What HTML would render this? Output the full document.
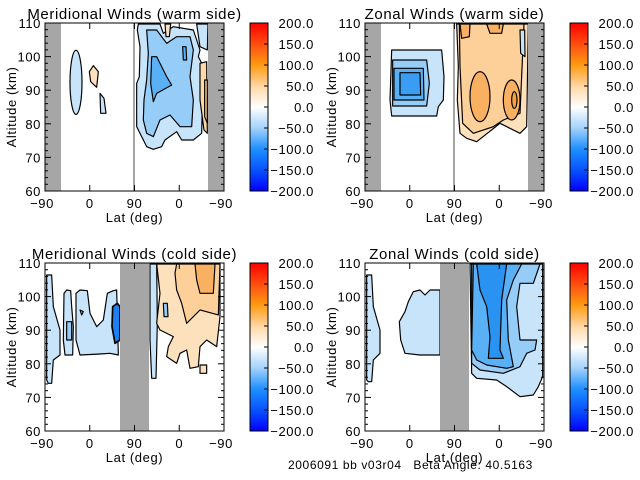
<!DOCTYPE html>
<html><head><meta charset="utf-8"><style>
html,body{margin:0;padding:0;background:#fff}
svg{display:block}
text{font-family:"Liberation Sans",sans-serif;fill:#000;letter-spacing:0.6px}
</style></head><body>
<svg id="s" width="640" height="480" xmlns="http://www.w3.org/2000/svg">
<defs>
<linearGradient id="cb" x1="0" y1="0" x2="0" y2="1">
<stop offset="0" stop-color="#ff0000"/>
<stop offset="0.12" stop-color="#ff4a10"/>
<stop offset="0.25" stop-color="#ff9a10"/>
<stop offset="0.38" stop-color="#ffd8a8"/>
<stop offset="0.5" stop-color="#ffffff"/>
<stop offset="0.62" stop-color="#a8d4fa"/>
<stop offset="0.75" stop-color="#1e90ff"/>
<stop offset="0.88" stop-color="#0850ff"/>
<stop offset="1" stop-color="#0000ff"/>
</linearGradient>
</defs>
<g stroke="#000" stroke-width="3.5" stroke-linejoin="round">
<!-- Panel 1 -->
<g transform="translate(0,0) scale(0.33333)">
<ellipse cx="228" cy="247" rx="18" ry="96" fill="#c8e4fa"/>
<path d="M268,215 L280,197 L295,215 L290,262 L272,245Z" fill="#fde0bc"/>
<path d="M300,280 L312,295 L318,340 L302,340Z" fill="#c8e4fa"/>
<path d="M415,72 L480,72 L490,100 L520,80 L580,90 L600,150 L595,170 L610,200 L605,400 L580,420 L545,420 L530,395 L495,420 L485,440 L460,448 L440,440 L425,410 L410,380 L410,250 L418,230 L420,140 L412,90Z" fill="#c8e4fa"/>
<path d="M440,90 L470,90 L500,130 L530,110 L570,110 L580,150 L570,230 L580,300 L575,380 L540,380 L510,345 L480,360 L460,410 L440,400 L430,360 L432,300 L440,240 L445,160Z" fill="#96cdf8"/>
<path d="M455,170 L470,170 L500,230 L515,255 L470,280 L460,305 L452,250Z" fill="#5ab0f5"/>
<path d="M548,140 L558,140 L560,180 L550,180Z" fill="#5ab0f5"/>
<path d="M600,190 L620,185 L622,400 L612,390 L600,300Z" fill="#fdd8a8"/>
<path d="M614,240 L622,240 L622,370 L614,350Z" fill="#fcc888"/>
<path d="M495,72 L512,72 L508,110 L498,110Z" fill="#fde0bc"/>
<path d="M590,72 L624,72 L622,150 L600,140Z" fill="#c8e4fa"/>
</g>
<!-- Panel 2 -->
<g transform="translate(320,0) scale(0.33333)">
<path d="M215,150 L365,150 L372,230 L370,300 L355,320 L350,348 L215,348 L210,300Z" fill="#c8e4fa"/>
<path d="M218,180 L320,180 L328,250 L320,318 L218,318Z" fill="#96cdf8"/>
<path d="M222,205 L310,205 L312,300 L222,300Z" fill="#5ab0f5"/>
<path d="M240,218 L300,218 L302,285 L240,285Z" fill="#3a9cf2"/>
<path d="M410,72 L625,72 L620,380 L600,400 L540,370 L470,425 L440,415 L420,400 L412,300 L415,200Z" fill="#fde0bc"/>
<path d="M418,72 L612,72 L600,340 L550,360 L520,380 L460,400 L428,370 L420,200Z" fill="#fcd098"/>
<ellipse cx="480" cy="290" rx="30" ry="75" fill="#f9b060"/>
<ellipse cx="575" cy="300" rx="25" ry="60" fill="#f9b060"/>
<path d="M420,72 L450,72 L448,110 L425,115Z" fill="#f9b060"/>
<path d="M500,72 L550,72 L545,100 L510,100Z" fill="#f9b060"/>
<ellipse cx="583" cy="300" rx="8" ry="25" fill="#f5a040"/>
<path d="M600,90 L614,90 L615,170 L602,160Z" fill="#c8e4fa"/>
</g>
<!-- Panel 3 -->
<g transform="translate(0,240) scale(0.33333)">
<path d="M140,105 L155,105 L160,200 L180,270 L180,345 L160,360 L155,430 L145,430 L140,420Z" fill="#c8e4fa"/>
<path d="M192,160 L200,150 L212,152 L215,200 L220,260 L218,345 L195,345 L190,300Z" fill="#c8e4fa"/>
<path d="M228,160 L240,150 L262,152 L270,220 L290,260 L310,240 L322,160 L340,152 L350,150 L355,345 L330,340 L300,342 L240,345 L228,300Z" fill="#c8e4fa"/>
<path d="M200,245 L215,245 L215,300 L200,300Z" fill="#96cdf8"/>
<path d="M240,210 L250,215 L245,225Z" fill="#96cdf8"/>
<path d="M338,200 L352,190 L360,200 L360,300 L345,310 L336,260Z" fill="#1e7ff0" stroke-width="5"/>
<path d="M450,72 L470,72 L472,250 L468,415 L455,415 L450,300Z" fill="#c8e4fa"/>
<path d="M490,72 L660,72 L660,230 L650,320 L620,300 L600,320 L595,380 L570,385 L560,330 L540,340 L530,370 L500,350 L505,320 L520,290 L480,270 L470,250 L480,160 L470,72Z" fill="#fde0bc"/>
<path d="M530,72 L660,72 L655,225 L600,210 L560,250 L545,190 L530,150 L525,100Z" fill="#fcd098"/>
<path d="M585,72 L645,72 L640,160 L600,160 L590,120Z" fill="#f9b060"/>
<path d="M600,375 L620,375 L620,400 L600,400Z" fill="#fde0bc"/>
<path d="M490,190 L502,190 L504,230 L492,230Z" fill="#96cdf8"/>
</g>
<!-- Panel 4 -->
<g transform="translate(320,240) scale(0.33333)">
<path d="M140,105 L155,105 L160,200 L180,270 L180,340 L160,360 L155,425 L145,425 L140,420Z" fill="#c8e4fa"/>
<path d="M238,245 L255,215 L265,185 L280,155 L300,150 L315,165 L330,150 L345,150 L360,150 L360,345 L300,345 L255,340 L242,300Z" fill="#c8e4fa"/>
<path d="M450,72 L668,72 L668,410 L655,440 L640,465 L600,470 L560,440 L530,420 L470,415 L455,400Z" fill="#c8e4fa"/>
<path d="M455,72 L660,72 L640,130 L600,130 L590,200 L600,300 L650,300 L645,330 L620,340 L600,380 L550,400 L480,390 L455,370Z" fill="#96cdf8"/>
<path d="M460,72 L605,72 L580,120 L560,180 L565,300 L580,380 L560,385 L500,375 L470,360 L455,330Z" fill="#5ab0f5"/>
<path d="M470,72 L560,72 L545,180 L540,330 L550,355 L505,355 L510,290 L500,200 L480,150Z" fill="#2a92f0"/>
</g>
</g>
<g id="ax"></g>
<text x="288" y="469" font-size="12" style="white-space:pre" xml:space="preserve">2006091 bb v03r04   Beta Angle: 40.5163</text>
</svg>
<script>
var ax=document.getElementById('ax'),h='';
var P=[[0,0,'Meridional Winds (warm side)',[[45,61],[208,224]],134],
[320,0,'Zonal Winds (warm side)',[[45,61],[208,224]],134],
[0,240,'Meridional Winds (cold side)',[[120,149]],null],
[320,240,'Zonal Winds (cold side)',[[120,149]],null]];
P.forEach(function(p){
var ox=p[0],oy=p[1],L=ox+45,T=oy+23,W=179,H=168;
p[3].forEach(function(g){h+='<rect x="'+(ox+g[0])+'" y="'+T+'" width="'+(g[1]-g[0])+'" height="'+H+'" fill="#a6a6a6"/>';});
if(p[4])h+='<line x1="'+(ox+p[4])+'" y1="'+T+'" x2="'+(ox+p[4])+'" y2="'+(T+H)+'" stroke="#a6a6a6" stroke-width="2"/>';
h+='<rect x="'+L+'" y="'+T+'" width="'+W+'" height="'+H+'" fill="none" stroke="#000" stroke-width="1"/>';
for(var k=0;k<=25;k++){var y=T+H-k*H/25;var len=(k%5==0)?6:3;
h+='<line x1="'+L+'" y1="'+y+'" x2="'+(L+len)+'" y2="'+y+'" stroke="#000"/>';
h+='<line x1="'+(L+W)+'" y1="'+y+'" x2="'+(L+W-len)+'" y2="'+y+'" stroke="#000"/>';}
for(var k=0;k<=5;k++){var y=T+H-k*H/5;h+='<text x="'+(L-4)+'" y="'+(y+5)+'" font-size="13" text-anchor="end">'+(60+10*k)+'</text>';}
var xs=[-90,0,90,0,-90];
for(var k=0;k<=4;k++){var x=L+k*W/4;h+='<line x1="'+x+'" y1="'+(T+H)+'" x2="'+x+'" y2="'+(T+H-6)+'" stroke="#000"/><line x1="'+x+'" y1="'+T+'" x2="'+x+'" y2="'+(T+6)+'" stroke="#000"/>';
h+='<text x="'+(x+(xs[k]<0?-3:0))+'" y="'+(T+H+17)+'" font-size="13" text-anchor="middle">'+(xs[k]<0?'\u2212'+(-xs[k]):xs[k])+'</text>';}
h+='<text x="'+(L+W/2)+'" y="'+(T+H+31)+'" font-size="13" text-anchor="middle">Lat (deg)</text>';
h+='<text transform="translate('+(ox+16)+','+(T+H/2)+') rotate(-90)" font-size="13" text-anchor="middle">Altitude (km)</text>';
h+='<text x="'+(L+W/2)+'" y="'+(oy+19)+'" font-size="15" text-anchor="middle">'+p[2]+'</text>';
var cx=ox+250;h+='<rect x="'+cx+'" y="'+T+'" width="18" height="'+H+'" fill="url(#cb)" stroke="#000"/>';
for(var k=0;k<=8;k++){var y=T+k*H/8,v=200-50*k;var s=(v<0?'\u2212'+(-v):v)+'.0';
h+='<line x1="'+(cx+18)+'" y1="'+y+'" x2="'+(cx+14)+'" y2="'+y+'" stroke="#000"/><text x="'+(ox+314)+'" y="'+(y+5)+'" font-size="13" text-anchor="end">'+s+'</text>';}
});
ax.innerHTML=h;
</script>
</body></html>
